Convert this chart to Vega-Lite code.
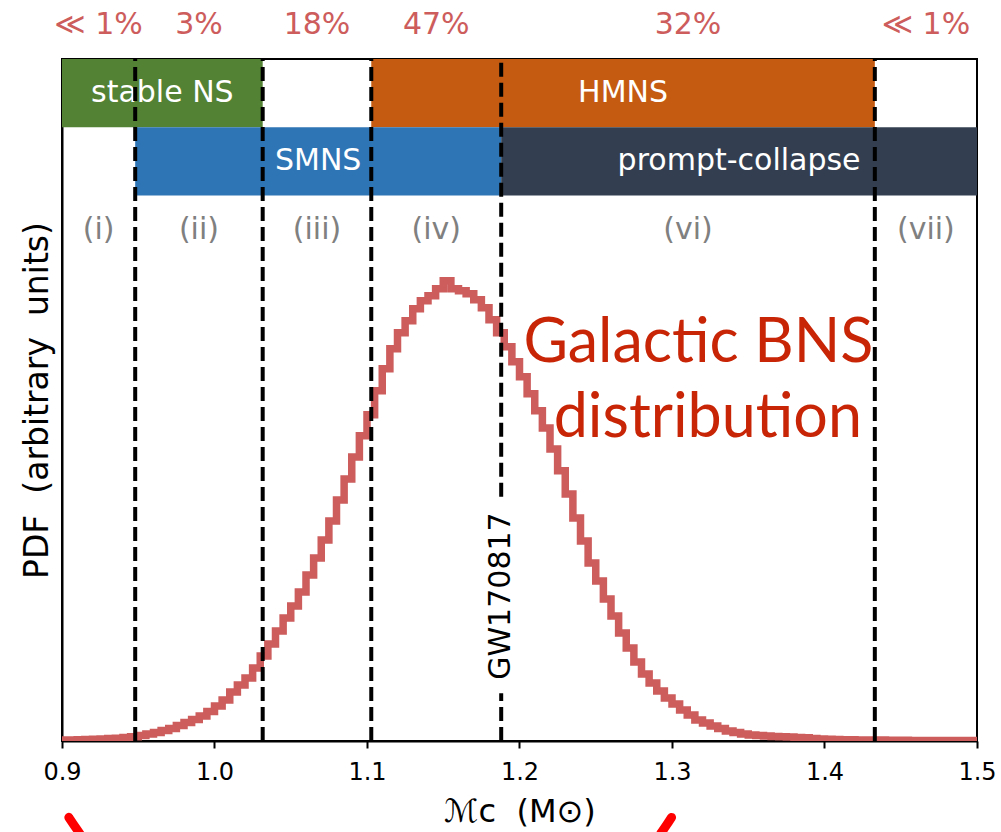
{
  "$schema": "https://vega.github.io/schema/vega-lite/v6.json",
  "autosize": "none",
  "width": 915,
  "height": 682,
  "padding": {"left": 62, "top": 59, "right": 24, "bottom": 91},
  "background": "white",
  "config": {
    "font": "DejaVu Sans",
    "view": {"stroke": "black", "strokeWidth": 2},
    "axis": {"grid": false, "domainColor": "black", "domainWidth": 2}
  },
  "datasets": {
    "hist": [
      {"m": 0.900, "pdf": 0.015}, {"m": 0.905, "pdf": 0.015}, {"m": 0.910, "pdf": 0.018}, {"m": 0.915, "pdf": 0.021},
      {"m": 0.920, "pdf": 0.025}, {"m": 0.925, "pdf": 0.029}, {"m": 0.930, "pdf": 0.035}, {"m": 0.935, "pdf": 0.041},
      {"m": 0.940, "pdf": 0.050}, {"m": 0.945, "pdf": 0.063}, {"m": 0.950, "pdf": 0.081}, {"m": 0.955, "pdf": 0.103},
      {"m": 0.960, "pdf": 0.125}, {"m": 0.965, "pdf": 0.154}, {"m": 0.970, "pdf": 0.183}, {"m": 0.975, "pdf": 0.227},
      {"m": 0.980, "pdf": 0.271}, {"m": 0.985, "pdf": 0.315}, {"m": 0.990, "pdf": 0.367}, {"m": 0.995, "pdf": 0.433},
      {"m": 1.000, "pdf": 0.513}, {"m": 1.005, "pdf": 0.601}, {"m": 1.010, "pdf": 0.719}, {"m": 1.015, "pdf": 0.821},
      {"m": 1.020, "pdf": 0.924}, {"m": 1.025, "pdf": 1.071}, {"m": 1.030, "pdf": 1.247}, {"m": 1.035, "pdf": 1.423},
      {"m": 1.040, "pdf": 1.614}, {"m": 1.045, "pdf": 1.804}, {"m": 1.050, "pdf": 1.980}, {"m": 1.055, "pdf": 2.186},
      {"m": 1.060, "pdf": 2.435}, {"m": 1.065, "pdf": 2.684}, {"m": 1.070, "pdf": 2.949}, {"m": 1.075, "pdf": 3.227},
      {"m": 1.080, "pdf": 3.535}, {"m": 1.085, "pdf": 3.843}, {"m": 1.090, "pdf": 4.166}, {"m": 1.095, "pdf": 4.474},
      {"m": 1.100, "pdf": 4.782}, {"m": 1.105, "pdf": 5.134}, {"m": 1.110, "pdf": 5.457}, {"m": 1.115, "pdf": 5.750},
      {"m": 1.120, "pdf": 5.985}, {"m": 1.125, "pdf": 6.161}, {"m": 1.130, "pdf": 6.337}, {"m": 1.135, "pdf": 6.454},
      {"m": 1.140, "pdf": 6.528}, {"m": 1.145, "pdf": 6.630}, {"m": 1.150, "pdf": 6.748}, {"m": 1.155, "pdf": 6.630},
      {"m": 1.160, "pdf": 6.601}, {"m": 1.165, "pdf": 6.557}, {"m": 1.170, "pdf": 6.469}, {"m": 1.175, "pdf": 6.352},
      {"m": 1.180, "pdf": 6.176}, {"m": 1.185, "pdf": 5.985}, {"m": 1.190, "pdf": 5.780}, {"m": 1.195, "pdf": 5.560},
      {"m": 1.200, "pdf": 5.340}, {"m": 1.205, "pdf": 5.090}, {"m": 1.210, "pdf": 4.841}, {"m": 1.215, "pdf": 4.591},
      {"m": 1.220, "pdf": 4.283}, {"m": 1.225, "pdf": 3.961}, {"m": 1.230, "pdf": 3.623}, {"m": 1.235, "pdf": 3.271},
      {"m": 1.240, "pdf": 2.934}, {"m": 1.245, "pdf": 2.611}, {"m": 1.250, "pdf": 2.347}, {"m": 1.255, "pdf": 2.083},
      {"m": 1.260, "pdf": 1.834}, {"m": 1.265, "pdf": 1.584}, {"m": 1.270, "pdf": 1.364}, {"m": 1.275, "pdf": 1.159},
      {"m": 1.280, "pdf": 0.983}, {"m": 1.285, "pdf": 0.851}, {"m": 1.290, "pdf": 0.733}, {"m": 1.295, "pdf": 0.631},
      {"m": 1.300, "pdf": 0.543}, {"m": 1.305, "pdf": 0.455}, {"m": 1.310, "pdf": 0.381}, {"m": 1.315, "pdf": 0.308},
      {"m": 1.320, "pdf": 0.264}, {"m": 1.325, "pdf": 0.220}, {"m": 1.330, "pdf": 0.183}, {"m": 1.335, "pdf": 0.147},
      {"m": 1.340, "pdf": 0.125}, {"m": 1.345, "pdf": 0.103}, {"m": 1.350, "pdf": 0.088}, {"m": 1.355, "pdf": 0.081},
      {"m": 1.360, "pdf": 0.073}, {"m": 1.365, "pdf": 0.067}, {"m": 1.370, "pdf": 0.063}, {"m": 1.375, "pdf": 0.059},
      {"m": 1.380, "pdf": 0.053}, {"m": 1.385, "pdf": 0.047}, {"m": 1.390, "pdf": 0.037}, {"m": 1.395, "pdf": 0.029},
      {"m": 1.400, "pdf": 0.025}, {"m": 1.405, "pdf": 0.022}, {"m": 1.410, "pdf": 0.019}, {"m": 1.415, "pdf": 0.018},
      {"m": 1.420, "pdf": 0.016}, {"m": 1.425, "pdf": 0.015}, {"m": 1.430, "pdf": 0.014}, {"m": 1.435, "pdf": 0.013},
      {"m": 1.440, "pdf": 0.012}, {"m": 1.445, "pdf": 0.011}, {"m": 1.450, "pdf": 0.010}, {"m": 1.455, "pdf": 0.009},
      {"m": 1.460, "pdf": 0.009}, {"m": 1.465, "pdf": 0.008}, {"m": 1.470, "pdf": 0.008}, {"m": 1.475, "pdf": 0.007},
      {"m": 1.480, "pdf": 0.007}, {"m": 1.485, "pdf": 0.006}, {"m": 1.490, "pdf": 0.006}, {"m": 1.495, "pdf": 0.006},
      {"m": 1.500, "pdf": 0.006}
    ],
    "outcomes": [
      {"outcome": "stable NS", "lo": 0.9, "hi": 1.0316, "bottom": 9, "top": 10, "mid": 0.9658, "ty": 9.5},
      {"outcome": "HMNS", "lo": 1.1028, "hi": 1.433, "bottom": 9, "top": 10, "mid": 1.2679, "ty": 9.5},
      {"outcome": "SMNS", "lo": 0.948, "hi": 1.188, "bottom": 8, "top": 9, "mid": 1.068, "ty": 8.5},
      {"outcome": "prompt-collapse", "lo": 1.188, "hi": 1.5, "bottom": 8, "top": 9, "mid": 1.344, "ty": 8.5}
    ],
    "regions": [
      {"region": "(i)", "share": "≪ 1%", "mid": 0.924},
      {"region": "(ii)", "share": "3%", "mid": 0.9898},
      {"region": "(iii)", "share": "18%", "mid": 1.0672},
      {"region": "(iv)", "share": "47%", "mid": 1.1454},
      {"region": "(vi)", "share": "32%", "mid": 1.3105},
      {"region": "(vii)", "share": "≪ 1%", "mid": 1.4665}
    ],
    "thresholds": [
      {"m": 0.948, "from": 0, "to": 10},
      {"m": 1.0316, "from": 0, "to": 10},
      {"m": 1.1028, "from": 0, "to": 10},
      {"m": 1.188, "from": 0, "to": 0.7},
      {"m": 1.188, "from": 3.58, "to": 10},
      {"m": 1.433, "from": 0, "to": 10}
    ]
  },
  "encoding": {
    "x": {
      "type": "quantitative",
      "scale": {"domain": [0.9, 1.5], "nice": false, "zero": false},
      "axis": {
        "values": [0.9, 1.0, 1.1, 1.2, 1.3, 1.4, 1.5],
        "format": ".1f",
        "title": "ℳc\u00a0\u00a0(M⊙)",
        "titleFont": "DejaVu Sans",
        "titleFontSize": 32,
        "titleFontWeight": "normal",
        "titleColor": "black",
        "titlePadding": 12,
        "labelFontSize": 24,
        "labelColor": "black",
        "labelPadding": 12,
        "labelFlush": false,
        "tickColor": "black",
        "tickWidth": 2,
        "tickSize": 7
      }
    },
    "y": {
      "type": "quantitative",
      "scale": {"domain": [0, 10], "nice": false, "zero": false},
      "axis": {
        "title": "PDF\u00a0\u00a0(arbitrary\u00a0\u00a0units)",
        "titleFont": "DejaVu Sans",
        "titleFontSize": 33,
        "titleFontWeight": "normal",
        "titleColor": "black",
        "titlePadding": 8,
        "labels": false,
        "ticks": false
      }
    }
  },
  "layer": [
    {
      "data": {"name": "outcomes"},
      "mark": {"type": "rect"},
      "encoding": {
        "x": {"field": "lo"},
        "x2": {"field": "hi"},
        "y": {"field": "bottom"},
        "y2": {"field": "top"},
        "color": {
          "field": "outcome",
          "type": "nominal",
          "scale": {
            "domain": ["stable NS", "SMNS", "HMNS", "prompt-collapse"],
            "range": ["#548235", "#2e75b6", "#c55a11", "#333f50"]
          },
          "legend": null
        }
      }
    },
    {
      "data": {"name": "outcomes"},
      "mark": {"type": "text", "color": "white", "fontSize": 30, "align": "center", "baseline": "middle"},
      "encoding": {
        "x": {"field": "mid"},
        "y": {"field": "ty"},
        "text": {"field": "outcome"}
      }
    },
    {
      "data": {"name": "hist"},
      "mark": {"type": "line", "interpolate": "step-after", "color": "#cd5c5c", "strokeWidth": 7.5, "clip": true},
      "encoding": {
        "x": {"field": "m"},
        "y": {"field": "pdf"}
      }
    },
    {
      "data": {"name": "regions"},
      "mark": {"type": "text", "color": "#808080", "fontSize": 30, "align": "center", "baseline": "middle"},
      "encoding": {
        "x": {"field": "mid"},
        "y": {"datum": 7.5},
        "text": {"field": "region"}
      }
    },
    {
      "data": {"name": "regions"},
      "mark": {"type": "text", "color": "#cd5c5c", "fontSize": 30, "align": "center", "baseline": "middle"},
      "encoding": {
        "x": {"field": "mid"},
        "y": {"datum": 10.5},
        "text": {"field": "share"}
      }
    },
    {
      "data": {"name": "thresholds"},
      "mark": {"type": "rule", "color": "black", "strokeWidth": 4, "strokeDash": [14, 6]},
      "encoding": {
        "x": {"field": "m"},
        "y": {"field": "from"},
        "y2": {"field": "to"}
      }
    },
    {
      "data": {"values": [{"m": 1.188, "y": 2.125, "label": "GW170817"}]},
      "mark": {"type": "text", "color": "black", "fontSize": 30, "angle": 270, "align": "center", "baseline": "middle"},
      "encoding": {
        "x": {"field": "m"},
        "y": {"field": "y"},
        "text": {"field": "label"}
      }
    },
    {
      "data": {"values": [
        {"m": 1.3173, "y": 5.56, "label": "Galactic BNS"},
        {"m": 1.3235, "y": 4.46, "label": "distribution"}
      ]},
      "mark": {"type": "text", "color": "#c82506", "font": "Lato", "fontSize": 61, "align": "center", "baseline": "alphabetic"},
      "encoding": {
        "x": {"field": "m"},
        "y": {"field": "y"},
        "text": {"field": "label"}
      }
    },
    {
      "data": {"values": [
        {"piece": "left", "m": 0.9045, "y": -1.12, "ord": 0},
        {"piece": "left", "m": 0.9078, "y": -1.23, "ord": 1},
        {"piece": "left", "m": 0.9118, "y": -1.36, "ord": 2},
        {"piece": "right", "m": 1.2997, "y": -1.12, "ord": 0},
        {"piece": "right", "m": 1.2962, "y": -1.24, "ord": 1},
        {"piece": "right", "m": 1.2925, "y": -1.36, "ord": 2}
      ]},
      "mark": {"type": "line", "color": "#ff0000", "strokeWidth": 9, "strokeCap": "round", "interpolate": "monotone"},
      "encoding": {
        "x": {"field": "m"},
        "y": {"field": "y"},
        "detail": {"field": "piece"},
        "order": {"field": "ord"}
      }
    }
  ]
}
